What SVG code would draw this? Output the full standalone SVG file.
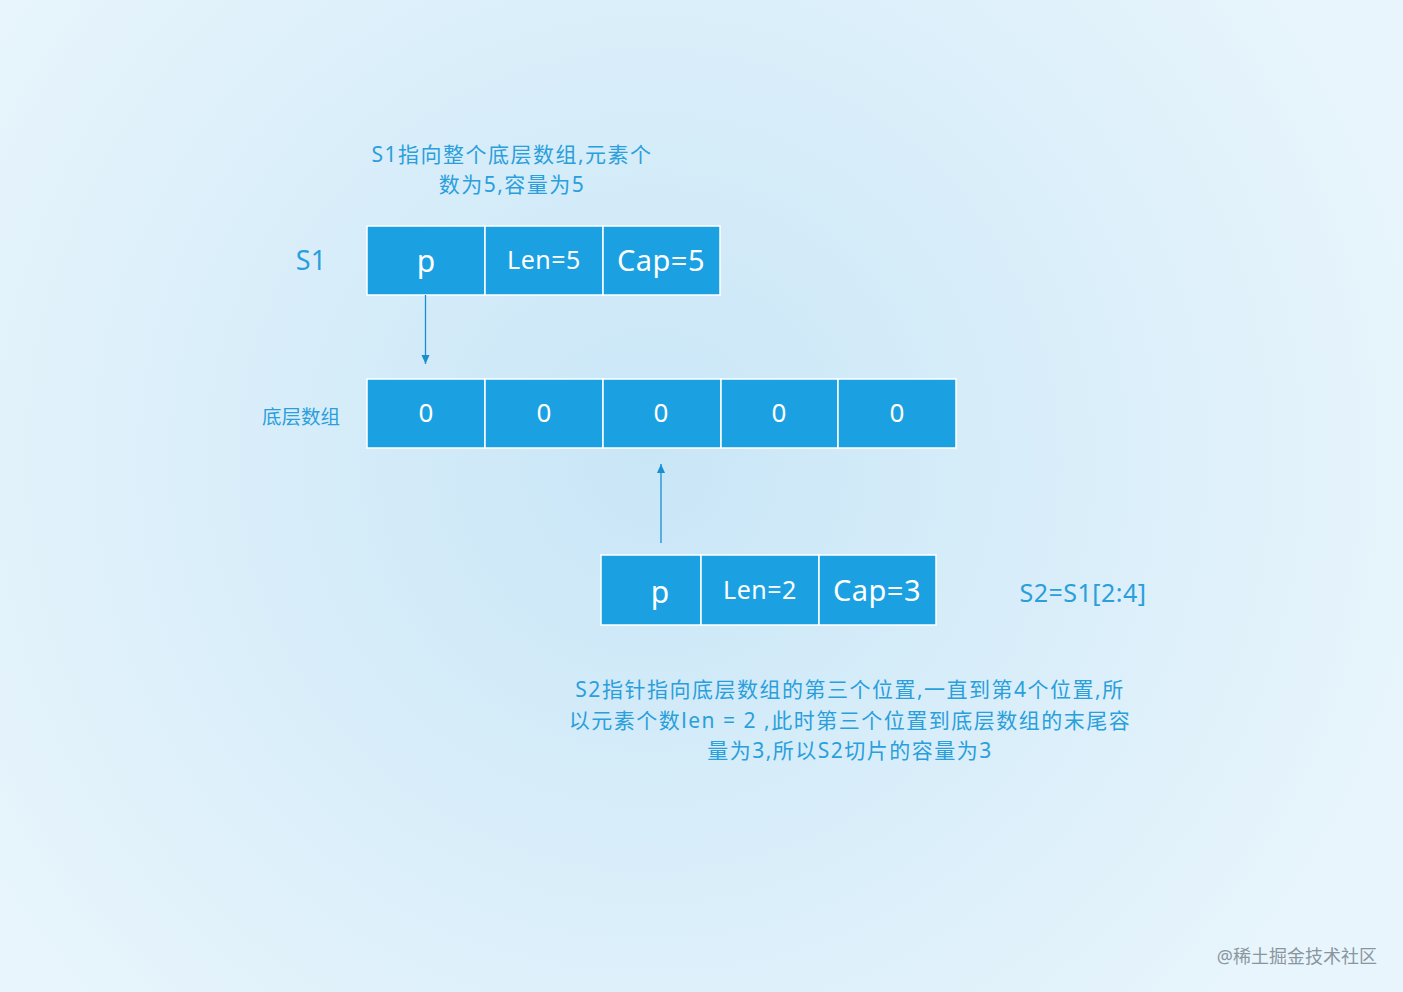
<svg xmlns="http://www.w3.org/2000/svg" width="1403" height="992" viewBox="0 0 1403 992">
<defs>
<radialGradient id="bg" cx="650" cy="460" r="800" gradientUnits="userSpaceOnUse">
<stop offset="0" stop-color="#c9e6f7"/>
<stop offset="1" stop-color="#e8f5fc"/>
</radialGradient>
<marker id="ah" markerWidth="10" markerHeight="10" refX="9" refY="5" orient="auto" markerUnits="userSpaceOnUse" viewBox="0 0 10 10">
<path d="M0,1 L9,5 L0,9 Z" fill="#1a8fd0"/>
</marker>
<style>
.cell{fill:#1ba1e2;stroke:#ffffff;stroke-width:1.5}
.ct{fill:#ffffff;font-family:"Noto Sans","Open Sans",sans-serif;text-anchor:middle;dominant-baseline:central}
.lbl{fill:#2a9fdc;font-family:"Noto Sans","Noto Sans CJK SC",sans-serif;text-anchor:middle;dominant-baseline:central}
.conn{stroke:#1a8fd0;stroke-width:1.3;fill:none}
</style>
</defs>
<rect x="0" y="0" width="1403" height="992" fill="url(#bg)"/>
<g id="note1">
<text class="lbl" x="512" y="154" font-size="21" letter-spacing="1.5">S1指向整个底层数组,元素个</text>
<text class="lbl" x="512" y="184" font-size="21" letter-spacing="1.5">数为5,容量为5</text>
</g>
<g id="s1-label"><text class="lbl" x="311" y="259" font-size="27">S1</text></g>
<g id="s1">
<rect class="cell" x="367" y="226" width="118" height="69"/>
<rect class="cell" x="485" y="226" width="118" height="69"/>
<rect class="cell" x="603" y="226" width="117" height="69"/>
<text class="ct" x="426" y="260" font-size="30">p</text>
<text class="ct" x="544" y="259" font-size="25" letter-spacing="0.5">Len=5</text>
<text class="ct" x="661" y="259" font-size="29" letter-spacing="0.5">Cap=5</text>
</g>
<g id="array-label"><text class="lbl" x="301" y="416" font-size="19.5">底层数组</text></g>
<g id="array">
<rect class="cell" x="367" y="379" width="118" height="69"/>
<rect class="cell" x="485" y="379" width="118" height="69"/>
<rect class="cell" x="603" y="379" width="118" height="69"/>
<rect class="cell" x="721" y="379" width="117" height="69"/>
<rect class="cell" x="838" y="379" width="118" height="69"/>
<text class="ct" x="426" y="412" font-size="26">0</text>
<text class="ct" x="544" y="412" font-size="26">0</text>
<text class="ct" x="661" y="412" font-size="26">0</text>
<text class="ct" x="779" y="412" font-size="26">0</text>
<text class="ct" x="897" y="412" font-size="26">0</text>
</g>
<g id="s2">
<rect class="cell" x="601" y="555" width="100" height="70"/>
<rect class="cell" x="701" y="555" width="118" height="70"/>
<rect class="cell" x="819" y="555" width="117" height="70"/>
<text class="ct" x="660" y="591" font-size="30">p</text>
<text class="ct" x="760" y="589" font-size="25" letter-spacing="0.5">Len=2</text>
<text class="ct" x="877" y="589" font-size="29" letter-spacing="0.5">Cap=3</text>
</g>
<g id="s2-label"><text class="lbl" x="1083" y="592" font-size="25" letter-spacing="0.5">S2=S1[2:4]</text></g>
<g id="note2">
<text class="lbl" x="850" y="689" font-size="21" letter-spacing="1.5">S2指针指向底层数组的第三个位置,一直到第4个位置,所</text>
<text class="lbl" x="850" y="720" font-size="21" letter-spacing="1.5">以元素个数len = 2 ,此时第三个位置到底层数组的末尾容</text>
<text class="lbl" x="850" y="750" font-size="21" letter-spacing="1.5">量为3,所以S2切片的容量为3</text>
</g>
<g id="connectors">
<line class="conn" x1="425.5" y1="295" x2="425.5" y2="364" marker-end="url(#ah)"/>
<line class="conn" x1="661" y1="543" x2="661" y2="464" marker-end="url(#ah)"/>
</g>
<g id="watermark"><text x="1377" y="956" font-size="18" fill="#8a969f" text-anchor="end" dominant-baseline="central" font-family="Noto Sans,Noto Sans CJK SC,sans-serif">@稀土掘金技术社区</text></g>
</svg>
